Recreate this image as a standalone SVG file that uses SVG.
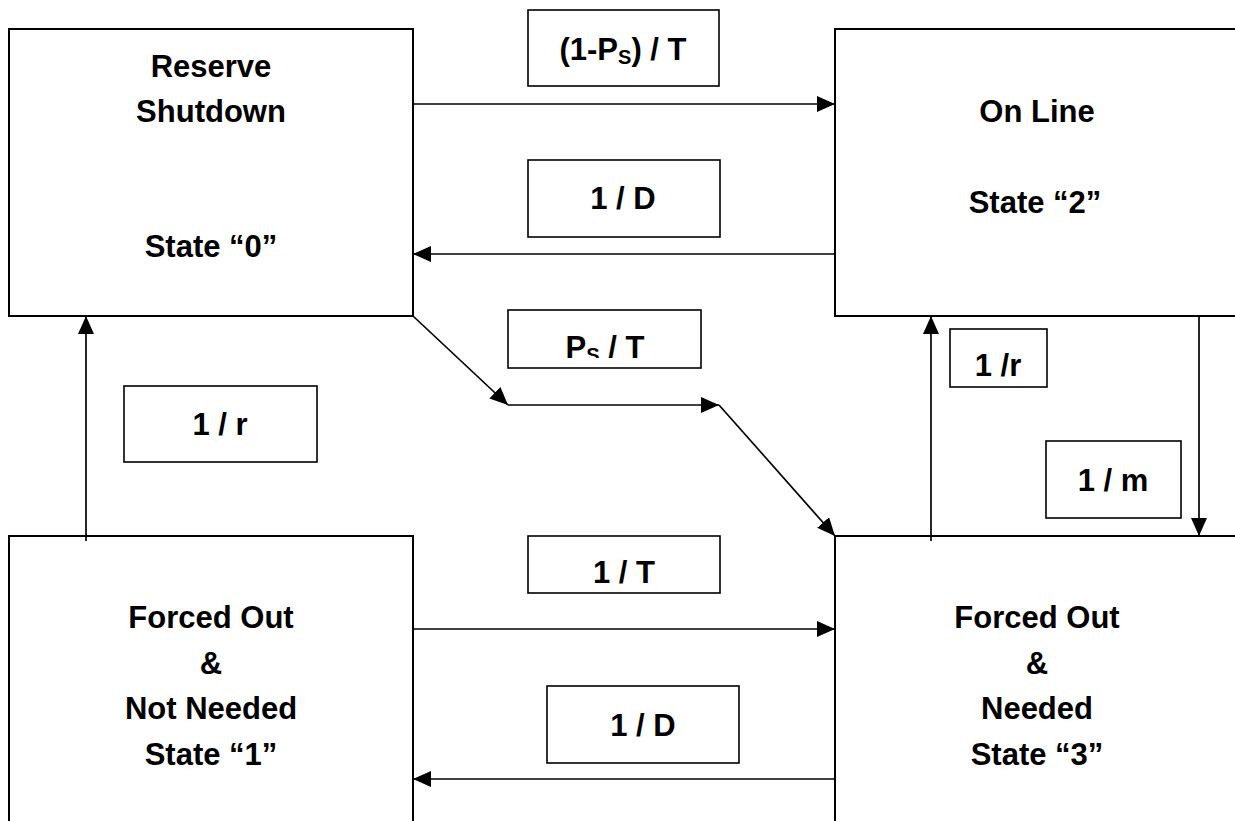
<svg xmlns="http://www.w3.org/2000/svg" width="1235" height="821" viewBox="0 0 1235 821">
<defs>
<marker id="ah" markerUnits="userSpaceOnUse" markerWidth="20" markerHeight="18" refX="18" refY="8" orient="auto">
<path d="M0,0 L18,8 L0,16 z" fill="#000"/>
</marker>
<clipPath id="clipPs"><rect x="508" y="310" width="193" height="48"/></clipPath>
</defs>
<style>
.node{fill:#fff;stroke:#000;stroke-width:2}
.lbl{fill:#fff;stroke:#000;stroke-width:1.6}
.t{font-family:"Liberation Sans",Arial,sans-serif;font-weight:bold;font-size:31px;text-anchor:middle;fill:#000}
.c{fill:none;stroke:#000;stroke-width:1.7}
.ca{fill:none;stroke:#000;stroke-width:1.7;marker-end:url(#ah)}
</style>
<rect width="1235" height="821" fill="#fff"/>
<g id="node-s0">
<rect class="node" x="9" y="29" width="404" height="287"/>
<text class="t" x="211" y="77">Reserve</text>
<text class="t" x="211" y="122">Shutdown</text>
<text class="t" x="211" y="257">State “0”</text>
</g>
<g id="node-s2">
<rect class="node" x="835" y="29" width="410" height="287"/>
<text class="t" x="1037" y="122">On Line</text>
<text class="t" x="1035" y="213">State “2”</text>
</g>
<g id="node-s1">
<rect class="node" x="9" y="536" width="404" height="300"/>
<text class="t" x="211" y="628">Forced Out</text>
<text class="t" x="211" y="674">&amp;</text>
<text class="t" x="211" y="719">Not Needed</text>
<text class="t" x="211" y="765">State “1”</text>
</g>
<g id="node-s3">
<rect class="node" x="835" y="536" width="410" height="300"/>
<text class="t" x="1037" y="628">Forced Out</text>
<text class="t" x="1037" y="674">&amp;</text>
<text class="t" x="1037" y="719">Needed</text>
<text class="t" x="1037" y="765">State “3”</text>
</g>
<g id="connectors">
<line class="ca" x1="413" y1="104" x2="835" y2="104"/>
<line class="ca" x1="835" y1="254" x2="413" y2="254"/>
<line class="ca" x1="413" y1="316" x2="508" y2="405"/>
<line class="ca" x1="508" y1="405" x2="719" y2="405"/>
<line class="ca" x1="719" y1="405" x2="835" y2="536"/>
<line class="ca" x1="86" y1="541" x2="86" y2="316"/>
<line class="ca" x1="931" y1="541" x2="931" y2="316"/>
<line class="ca" x1="1199" y1="316" x2="1199" y2="536"/>
<line class="ca" x1="413" y1="629" x2="835" y2="629"/>
<line class="ca" x1="835" y1="779" x2="413" y2="779"/>
</g>
<g id="label-1mps-t">
<rect class="lbl" x="528" y="10" width="191" height="76"/>
<text class="t" x="623" y="60">(1-P<tspan font-size="20" dy="4">S</tspan><tspan dy="-4">) / T</tspan></text>
</g>
<g id="label-1-d-top">
<rect class="lbl" x="528" y="160" width="192" height="77"/>
<text class="t" x="623" y="209">1 / D</text>
</g>
<g id="label-ps-t">
<rect class="lbl" x="508" y="310" width="193" height="58"/>
<text class="t" x="605" y="358" clip-path="url(#clipPs)">P<tspan font-size="20" dy="4">S</tspan><tspan dy="-4"> / T</tspan></text>
</g>
<g id="label-1-r-left">
<rect class="lbl" x="124" y="386" width="193" height="76"/>
<text class="t" x="220" y="435">1 / r</text>
</g>
<g id="label-1-r-right">
<rect class="lbl" x="950" y="329" width="97" height="58"/>
<text class="t" x="998" y="376">1 /r</text>
</g>
<g id="label-1-m">
<rect class="lbl" x="1046" y="441" width="135" height="77"/>
<text class="t" x="1113" y="491">1 / m</text>
</g>
<g id="label-1-t">
<rect class="lbl" x="528" y="536" width="192" height="57"/>
<text class="t" x="624" y="583">1 / T</text>
</g>
<g id="label-1-d-bottom">
<rect class="lbl" x="547" y="686" width="192" height="77"/>
<text class="t" x="643" y="736">1 / D</text>
</g>
</svg>
